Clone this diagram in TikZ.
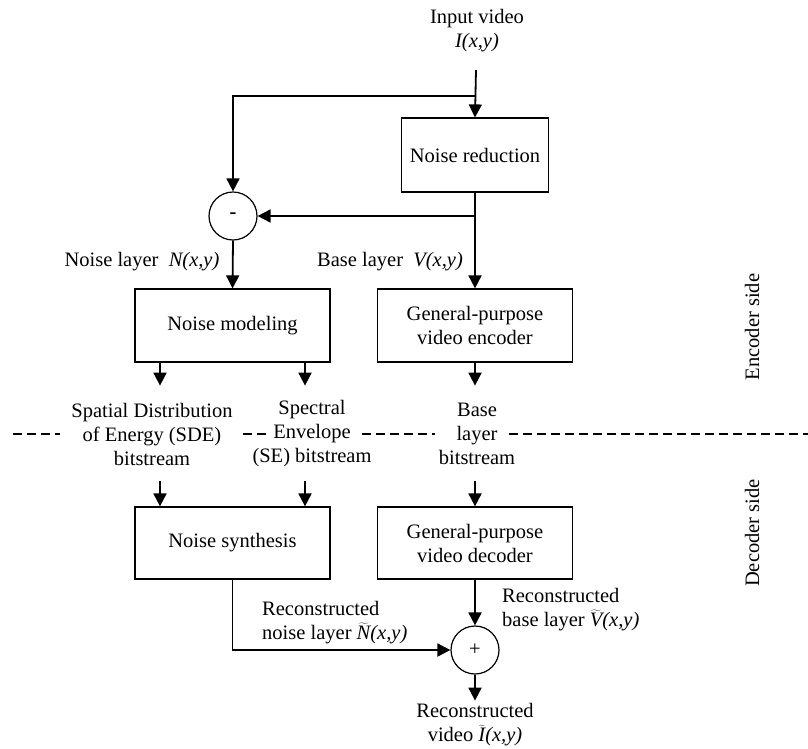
\documentclass[tikz,border=0pt]{standalone}
\usepackage{fontspec}
\setmainfont{Liberation Serif}
\usetikzlibrary{arrows.meta}
\begin{document}
\begin{tikzpicture}[x=1pt,y=-1pt,
  font=\fontsize{20.5}{24}\selectfont,
  blk/.style={draw,line width=1.2pt,minimum width=195pt,minimum height=73pt,align=center,inner sep=0pt},
  sumnode/.style={draw,circle,line width=1.2pt,minimum size=48pt,inner sep=0pt},
  arr/.style={line width=1.8pt,-{Triangle[length=13pt,width=13pt]}},
  txt/.style={align=center,inner sep=0pt},
  sep/.style={line width=1.4pt,dash pattern=on 9pt off 5pt}]
\useasboundingbox (0,0) rectangle (808,748);
% nodes
\node[txt] (input) at (477,31) {Input video\\\textit{I(x,y)}};
\coordinate (inTop) at (476,70);
\coordinate (split) at (476,96);
\node[blk,minimum width=147pt,minimum height=74pt] (nr) at (475,155) {Noise reduction};
\node[sumnode] (minus) at (233,216) {\textbf{-}};
\node[blk] (nm) at (232.5,325.5) {Noise modeling};
\node[blk] (enc) at (475,325.5) {General-purpose\\video encoder};
\node[txt] (nlab) at (142,262) {Noise layer\ \ \textit{N(x,y)}};
\node[txt] (blab) at (390,262) {Base layer\ \ \textit{V(x,y)}};
\node[txt] (sde) at (152,434) {Spatial Distribution\\of Energy (SDE)\\bitstream};
\node[txt] (se) at (312,434) {Spectral\\Envelope\\(SE) bitstream};
\node[txt] (bl) at (477,434) {Base\\layer\\bitstream};
\node[blk,minimum height=72pt] (ns) at (232.5,543) {Noise synthesis};
\node[blk,minimum height=72pt] (dec) at (475,543) {General-purpose\\video decoder};
\node[sumnode] (plus) at (475,650) {+};
\node[align=left,inner sep=0pt,anchor=west] (recN) at (262,623) {Reconstructed\\noise layer $\widetilde{\textit{N}}$\textit{(x,y)}};
\node[align=left,inner sep=0pt,anchor=west] (recV) at (502,610) {Reconstructed\\base layer $\widetilde{\textit{V}}$\textit{(x,y)}};
\node[txt] (out) at (475,725) {Reconstructed\\video $\widetilde{\textit{I}}$\textit{(x,y)}};
\node[txt,rotate=90] (encside) at (752,327) {Encoder side};
\node[txt,rotate=90] (decside) at (752,533) {Decoder side};
% connectors
\draw[arr] (inTop) -- (nr.north);
\draw[arr] (split) -| (minus.north);
\draw[arr] (nr.south |- minus.east) -- (minus.east);
\draw[arr] (nr.south) -- (enc.north);
\draw[arr] (minus.south) -- (nm.north);
\draw[arr] ([xshift=-72.5pt]nm.south) -- ++(0,23);
\draw[arr] ([xshift=72.5pt]nm.south) -- ++(0,23);
\draw[arr] (enc.south) -- ++(0,23);
\draw[arr] ([xshift=-72.5pt,yshift=25pt]ns.north) -- ([xshift=-72.5pt]ns.north);
\draw[arr] ([xshift=72.5pt,yshift=25pt]ns.north) -- ([xshift=72.5pt]ns.north);
\draw[arr] ([yshift=25pt]dec.north) -- (dec.north);
\draw[arr] (ns.south) |- (plus.west);
\draw[arr] (dec.south) -- (plus.north);
\draw[arr] (plus.south) -- ++(0,26);
% separator
\draw[sep] (13,434) -- (60,434);
\draw[sep] (243,434) -- (267,434);
\draw[sep] (362,434) -- (435,434);
\draw[sep] (509,434) -- (808,434);
\end{tikzpicture}
\end{document}
